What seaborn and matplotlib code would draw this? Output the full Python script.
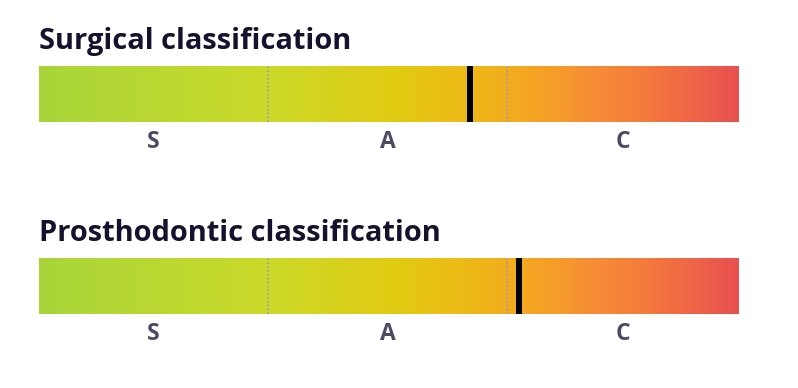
import numpy as np
import seaborn as sns
import matplotlib.pyplot as plt
from matplotlib.colors import LinearSegmentedColormap

sns.set_theme(style="white")
plt.rcParams['font.family'] = ['Open Sans', 'DejaVu Sans']

# data
titles = ["Surgical classification", "Prosthodontic classification"]
scores = [61.6, 68.6]            # marker position on 0-100 scale
thresholds = [32.7, 66.9]        # dividers between classes
classes = ["S", "A", "C"]

grad_colors = ["#a8d53a", "#cbd928", "#e2c911", "#eeb816", "#f4a622",
               "#f68b36", "#f47a3c", "#e8504f"]
grad_stops = [0.0, 0.33, 0.52, 0.62, 0.70, 0.80, 0.87, 1.0]
cmap = LinearSegmentedColormap.from_list("sac", list(zip(grad_stops, grad_colors)))

N = 700
ramp = np.linspace(0, 1, N).reshape(1, N)

W, H = 798, 388
fig = plt.figure(figsize=(W / 100, H / 100), dpi=100)

# (top, bottom) of each bar in pixels, title baseline
bars = [(66, 122, 49), (258, 314, 241)]

edges = [0] + thresholds + [100]
centers = [(a + b) / 2 for a, b in zip(edges[:-1], edges[1:])]

for title, score, (top, bot, base) in zip(titles, scores, bars):
    ax = fig.add_axes([39 / W, 1 - bot / H, 700 / W, (bot - top) / H])
    sns.heatmap(ramp, ax=ax, cmap=cmap, cbar=False, vmin=0, vmax=1,
                xticklabels=False, yticklabels=False)
    sc = N / 100
    for t in thresholds:
        ax.axvline(t * sc, color="#9b96b5", lw=1.2, ls=(0, (1, 1.3)))
    ax.axvline(score * sc, color="black", lw=4.3)
    ax.set_xlim(0, N)
    ax.set_xticks([c * sc for c in centers])
    ax.set_xticklabels(classes, fontsize=16.5, fontweight="bold", color="#4d4a63")
    ax.tick_params(axis="x", length=0, pad=6)
    ax.set_yticks([])
    for s in ax.spines.values():
        s.set_visible(False)
    fig.text(39 / W, 1 - base / H, title, fontsize=20.9, fontweight="bold",
             color="#15122e", ha="left", va="baseline")

fig.savefig("out.png", dpi=100)
